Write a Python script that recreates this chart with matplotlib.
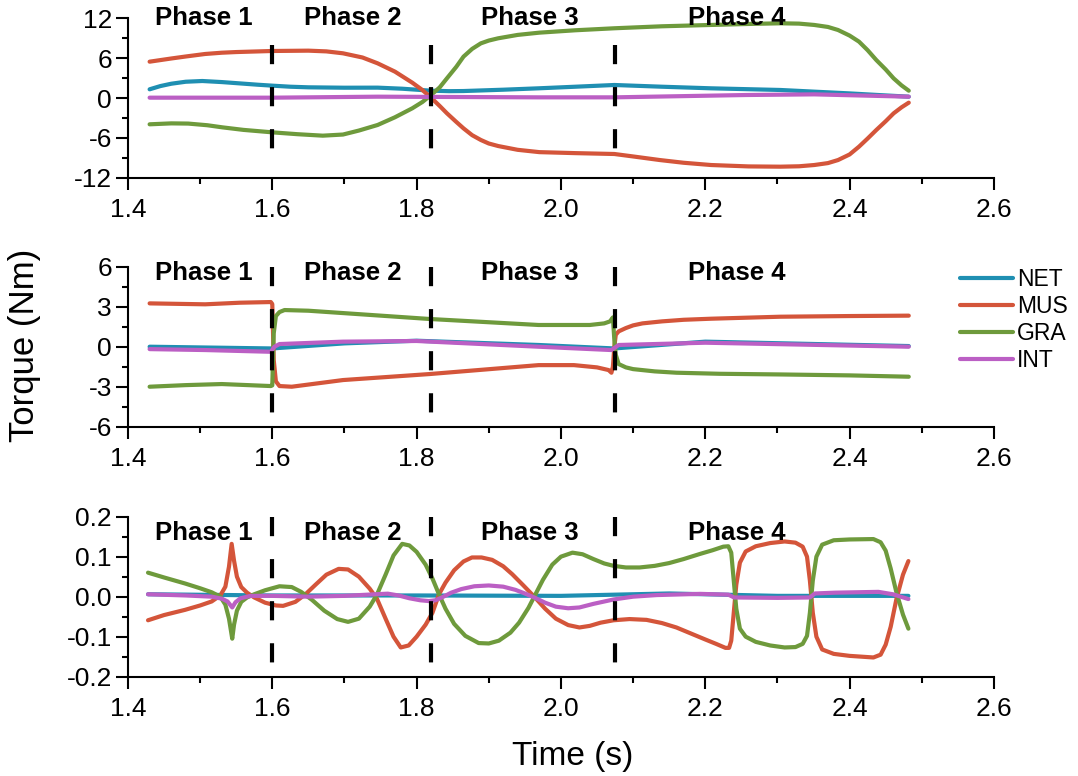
import matplotlib
matplotlib.use("Agg")
import matplotlib.pyplot as plt
from matplotlib.ticker import MultipleLocator, FuncFormatter

plt.rcParams["font.family"] = ["Liberation Sans", "DejaVu Sans"]

# ---- series colours ----
COL_NET = "#1f8fb2"
COL_MUS = "#d4553a"
COL_GRA = "#6e9a3c"
COL_INT = "#bb5fc4"

# ---- phase boundaries and phase labels ----
phase_bounds = [1.6, 1.82, 2.075]
phase_names = ["Phase 1", "Phase 2", "Phase 3", "Phase 4"]
phase_label_x = [1.505, 1.712, 1.957, 2.244]

# ---- top panel ----
t_top_mus = [1.43, 1.46, 1.48, 1.507, 1.53, 1.55, 1.6, 1.65, 1.675, 1.698, 1.725, 1.746, 1.770, 1.794,
             1.808, 1.82, 1.832, 1.842, 1.855, 1.865, 1.877, 1.889, 1.9, 1.913, 1.94, 1.97, 2.02, 2.074,
             2.1, 2.137, 2.17, 2.208, 2.26, 2.304, 2.33, 2.351, 2.37, 2.384, 2.40, 2.413, 2.425, 2.437,
             2.45, 2.461, 2.472, 2.482]
top_mus = [5.47, 5.95, 6.25, 6.63, 6.82, 6.92, 7.08, 7.13, 7.02, 6.73, 6.1, 5.22, 3.97, 2.31,
           1.2, 0.05, -1.2, -2.3, -3.6, -4.57, -5.6, -6.32, -6.85, -7.23, -7.8, -8.15, -8.3, -8.43,
           -8.8, -9.34, -9.75, -10.09, -10.3, -10.34, -10.28, -10.09, -9.8, -9.34, -8.5, -7.33, -6.1, -4.82,
           -3.5, -2.31, -1.4, -0.7]

t_top_gra = [1.43, 1.46, 1.4835, 1.51, 1.531, 1.56, 1.6, 1.635, 1.67, 1.698, 1.72, 1.746, 1.77, 1.794,
             1.808, 1.82, 1.832, 1.842, 1.855, 1.865, 1.877, 1.889, 1.9, 1.913, 1.94, 1.97, 2.02, 2.074,
             2.14, 2.208, 2.26, 2.304, 2.33, 2.351, 2.37, 2.384, 2.40, 2.413, 2.425, 2.437, 2.45, 2.461,
             2.472, 2.482]
top_gra = [-3.96, -3.82, -3.85, -4.1, -4.42, -4.8, -5.17, -5.45, -5.67, -5.5, -4.9, -4.06, -2.9, -1.55,
           -0.6, 0.45, 1.6, 2.96, 4.7, 6.23, 7.4, 8.23, 8.65, 8.99, 9.5, 9.84, 10.2, 10.5,
           10.8, 11.0, 11.15, 11.25, 11.2, 11.0, 10.7, 10.24, 9.4, 8.49, 7.2, 5.72, 4.3, 2.96,
           1.9, 1.1]

t_top_net = [1.43, 1.445, 1.46, 1.48, 1.503, 1.53, 1.555, 1.58, 1.6, 1.625, 1.65, 1.7, 1.746, 1.78,
             1.82, 1.845, 1.865, 1.92, 1.969, 2.02, 2.074, 2.14, 2.208, 2.304, 2.399, 2.44, 2.482]
top_net = [1.31, 1.8, 2.15, 2.45, 2.56, 2.4, 2.2, 2.0, 1.86, 1.7, 1.61, 1.55, 1.56, 1.4,
           1.1, 1.03, 1.05, 1.25, 1.46, 1.7, 1.96, 1.7, 1.46, 1.21, 0.7, 0.45, 0.2]

t_top_int = [1.43, 1.6, 1.746, 1.969, 2.074, 2.256, 2.351, 2.482]
top_int = [0.05, 0.05, 0.2, 0.1, 0.1, 0.45, 0.55, 0.2]

# ---- middle panel ----
t_mid_mus = [1.43, 1.507, 1.555, 1.598, 1.600, 1.602, 1.605, 1.61, 1.627, 1.698, 1.818, 1.969, 2.018,
             2.05, 2.066, 2.070, 2.072, 2.074, 2.076, 2.08, 2.09, 2.1, 2.113, 2.14, 2.17, 2.208, 2.304,
             2.4, 2.482]
mid_mus = [3.25, 3.18, 3.3, 3.35, 3.2, -1.0, -2.6, -2.95, -3.0, -2.5, -2.05, -1.38, -1.38,
           -1.55, -1.75, -1.95, -1.5, 0.0, 0.9, 1.15, 1.4, 1.6, 1.75, 1.9, 2.02, 2.1, 2.25,
           2.3, 2.33]

t_mid_gra = [1.43, 1.48, 1.53, 1.598, 1.600, 1.602, 1.605, 1.61, 1.617, 1.65, 1.818, 1.969, 2.04,
             2.06, 2.068, 2.072, 2.074, 2.076, 2.08, 2.09, 2.1, 2.13, 2.16, 2.22, 2.304, 2.4, 2.482]
mid_gra = [-3.0, -2.88, -2.8, -2.95, -2.9, 1.0, 2.3, 2.6, 2.75, 2.7, 2.08, 1.63, 1.63,
           1.75, 1.9, 2.2, 0.5, -0.6, -1.3, -1.55, -1.68, -1.85, -1.95, -2.03, -2.08, -2.15, -2.25]

t_mid_net = [1.43, 1.6, 1.7, 1.8, 1.969, 2.074, 2.2, 2.482]
mid_net = [0.0, -0.13, 0.25, 0.45, 0.13, -0.13, 0.38, 0.05]

t_mid_int = [1.43, 1.507, 1.598, 1.603, 1.61, 1.698, 1.8, 1.969, 2.07, 2.08, 2.2, 2.482]
mid_int = [-0.18, -0.25, -0.38, 0.0, 0.2, 0.38, 0.43, 0.0, -0.25, 0.13, 0.3, 0.0]

# ---- bottom panel ----
t_bot_gra = [1.4278, 1.45, 1.479, 1.50, 1.516, 1.528, 1.535, 1.540, 1.5445, 1.547, 1.551, 1.557, 1.565,
             1.575, 1.59, 1.61, 1.627, 1.64, 1.655, 1.672, 1.69, 1.705, 1.72, 1.735, 1.745, 1.757, 1.768,
             1.78, 1.79, 1.80, 1.8125, 1.822, 1.831, 1.84, 1.852, 1.8675, 1.886, 1.9, 1.914, 1.93, 1.942,
             1.955, 1.963, 1.975, 1.988, 2.0, 2.016, 2.03, 2.045, 2.06, 2.073, 2.09, 2.109, 2.13, 2.15,
             2.17, 2.193, 2.21, 2.225, 2.232, 2.236, 2.239, 2.243, 2.248, 2.256, 2.27, 2.29, 2.31, 2.325,
             2.335, 2.341, 2.345, 2.349, 2.354, 2.362, 2.378, 2.40, 2.433, 2.443, 2.45, 2.457, 2.465,
             2.474, 2.4815]
bot_gra = [0.06, 0.048, 0.033, 0.021, 0.011, 0.0, -0.02, -0.055, -0.105, -0.07, -0.035, -0.013, -0.002,
           0.006, 0.016, 0.026, 0.024, 0.012, -0.008, -0.035, -0.056, -0.063, -0.055, -0.025, 0.005, 0.055, 0.103,
           0.132, 0.128, 0.112, 0.08, 0.045, 0.006, -0.03, -0.068, -0.098, -0.116, -0.117, -0.11, -0.09, -0.065,
           -0.028, 0.0, 0.042, 0.08, 0.1, 0.11, 0.106, 0.094, 0.083, 0.077, 0.073, 0.073, 0.077, 0.084,
           0.094, 0.107, 0.116, 0.125, 0.126, 0.11, 0.05, -0.03, -0.08, -0.1, -0.113, -0.122, -0.127, -0.126,
           -0.118, -0.098, -0.04, 0.04, 0.1, 0.13, 0.141, 0.143, 0.144, 0.136, 0.115, 0.07, 0.01,
           -0.045, -0.08]

t_bot_mus = [1.4278, 1.45, 1.479, 1.50, 1.516, 1.528, 1.535, 1.540, 1.5437, 1.547, 1.551, 1.557, 1.565,
             1.575, 1.59, 1.605, 1.615, 1.632, 1.646, 1.66, 1.675, 1.692, 1.705, 1.72, 1.735, 1.745, 1.757,
             1.768, 1.778, 1.789, 1.80, 1.8125, 1.822, 1.831, 1.84, 1.852, 1.865, 1.8767, 1.89, 1.9047,
             1.92, 1.9326, 1.948, 1.963, 1.978, 1.993, 2.01, 2.0256, 2.04, 2.055, 2.073, 2.095, 2.1186,
             2.14, 2.16, 2.18, 2.2, 2.215, 2.228, 2.233, 2.236, 2.239, 2.243, 2.248, 2.256, 2.27, 2.29,
             2.31, 2.325, 2.335, 2.341, 2.345, 2.349, 2.354, 2.362, 2.378, 2.40, 2.433, 2.443, 2.45, 2.457,
             2.465, 2.474, 2.4815]
bot_mus = [-0.059, -0.046, -0.033, -0.022, -0.012, 0.003, 0.025, 0.075, 0.132, 0.09, 0.05, 0.024, 0.01,
           -0.002, -0.015, -0.022, -0.023, -0.013, 0.006, 0.03, 0.055, 0.0695, 0.068, 0.05, 0.02, -0.005, -0.055,
           -0.1, -0.127, -0.122, -0.1, -0.07, -0.04, 0.006, 0.035, 0.066, 0.088, 0.098, 0.098, 0.092,
           0.076, 0.056, 0.028, 0.0, -0.03, -0.055, -0.071, -0.077, -0.073, -0.065, -0.059, -0.056, -0.058,
           -0.066, -0.077, -0.092, -0.107, -0.118, -0.128, -0.128, -0.11, -0.05, 0.03, 0.085, 0.113, 0.126, 0.134,
           0.138, 0.135, 0.125, 0.1, 0.04, -0.04, -0.1, -0.132, -0.143, -0.148, -0.152, -0.145, -0.12, -0.075,
           -0.005, 0.055, 0.089]

t_bot_net = [1.4278, 1.6, 1.8, 2.0, 2.15, 2.3, 2.4815]
bot_net = [0.006, 0.003, 0.003, 0.002, 0.008, 0.002, 0.002]

t_bot_int = [1.4278, 1.48, 1.516, 1.53, 1.538, 1.5445, 1.549, 1.556, 1.57, 1.6, 1.65, 1.7, 1.743, 1.76,
             1.775, 1.79, 1.805, 1.817, 1.826, 1.835, 1.848, 1.862, 1.88, 1.9, 1.92, 1.937, 1.95, 1.963,
             1.978, 1.993, 2.01, 2.0256, 2.045, 2.073, 2.1, 2.133, 2.193, 2.232, 2.24, 2.3, 2.345, 2.352,
             2.38, 2.44, 2.46, 2.4815]
bot_int = [0.006, 0.003, 0.0, -0.005, -0.012, -0.027, -0.014, -0.004, 0.002, 0.002, 0.0, 0.002, 0.006, 0.0075,
           0.003, -0.004, -0.009, -0.011, -0.009, -0.002, 0.01, 0.019, 0.026, 0.028, 0.025, 0.017, 0.008, -0.002,
           -0.015, -0.025, -0.029, -0.027, -0.018, -0.007, 0.0, 0.004, 0.007, 0.005, -0.002, -0.003, -0.002, 0.008,
           0.01, 0.012, 0.006, -0.006]

panels = [
    dict(rect=[0.1187, 0.771, 0.8033, 0.2054], ylim=(-12, 12), major=6, minor=3, fmt="{:.0f}",
         dash=(7.95, -8.4), label_y=12.0,
         series=[(t_top_net, top_net, COL_NET), (t_top_mus, top_mus, COL_MUS),
                 (t_top_gra, top_gra, COL_GRA), (t_top_int, top_int, COL_INT)]),
    dict(rect=[0.1187, 0.4501, 0.8033, 0.2062], ylim=(-6, 6), major=3, minor=1.5, fmt="{:.0f}",
         dash=(6.0, -4.95), label_y=5.5,
         series=[(t_mid_net, mid_net, COL_NET), (t_mid_mus, mid_mus, COL_MUS),
                 (t_mid_gra, mid_gra, COL_GRA), (t_mid_int, mid_int, COL_INT)]),
    dict(rect=[0.1187, 0.128, 0.8033, 0.2062], ylim=(-0.2, 0.2), major=0.1, minor=0.05, fmt="{:.1f}",
         dash=(0.2, -0.185), label_y=0.158,
         series=[(t_bot_net, bot_net, COL_NET), (t_bot_mus, bot_mus, COL_MUS),
                 (t_bot_gra, bot_gra, COL_GRA), (t_bot_int, bot_int, COL_INT)]),
]

series_names = ["NET", "MUS", "GRA", "INT"]


def tick_text(fmt):
    def _f(v, _):
        s = fmt.format(v)
        return s[1:] if s.startswith("-") and float(s) == 0 else s
    return _f


fig = plt.figure(figsize=(10.78, 7.76), dpi=100)
axes = []
for p in panels:
    ax = fig.add_axes(p["rect"])
    axes.append(ax)
    for (t, v, c), name in zip(p["series"], series_names):
        ax.plot(t, v, color=c, lw=3.0, solid_capstyle="round", solid_joinstyle="round", label=name)
    for xb in phase_bounds:
        ax.plot([xb, xb], list(p["dash"]), color="black", lw=3.0,
                linestyle=(0, (4.6, 5.5)), dash_capstyle="butt", zorder=5, clip_on=False)
    for xl, nm in zip(phase_label_x, phase_names):
        ax.text(xl, p["label_y"], nm, ha="center", va="center", fontsize=18.5,
                fontweight="bold", clip_on=False, zorder=6)
    ax.set_xlim(1.4, 2.6)
    ax.set_ylim(*p["ylim"])
    ax.xaxis.set_major_locator(MultipleLocator(0.2))
    ax.xaxis.set_minor_locator(MultipleLocator(0.1))
    ax.yaxis.set_major_locator(MultipleLocator(p["major"]))
    ax.yaxis.set_minor_locator(MultipleLocator(p["minor"]))
    ax.xaxis.set_major_formatter(FuncFormatter(tick_text("{:.1f}")))
    ax.yaxis.set_major_formatter(FuncFormatter(tick_text(p["fmt"])))
    for s in ["top", "right"]:
        ax.spines[s].set_visible(False)
    for s in ["left", "bottom"]:
        ax.spines[s].set_linewidth(1.5)
    ax.tick_params(which="major", direction="out", length=8.5, width=1.5, labelsize=19, pad=3)
    ax.tick_params(which="minor", direction="out", length=4.5, width=1.5)
    ax.tick_params(axis="x", which="major", pad=6)

# legend beside the middle panel
handles, labels = axes[1].get_legend_handles_labels()
fig.legend(handles, labels, loc="upper left", bbox_to_anchor=(960 / 1078, 1 - 268 / 776),
           frameon=False, fontsize=16.5, handlelength=2.3, handletextpad=0.18, labelspacing=0.18,
           borderpad=0, borderaxespad=0)

fig.text(25 / 1078, 1 - 345 / 776, "Torque (Nm)", rotation=90, ha="center", va="center", fontsize=25)
fig.text(573 / 1078, 1 - 757 / 776, "Time (s)", ha="center", va="center", fontsize=24)

fig.savefig("out.png", dpi=100)
